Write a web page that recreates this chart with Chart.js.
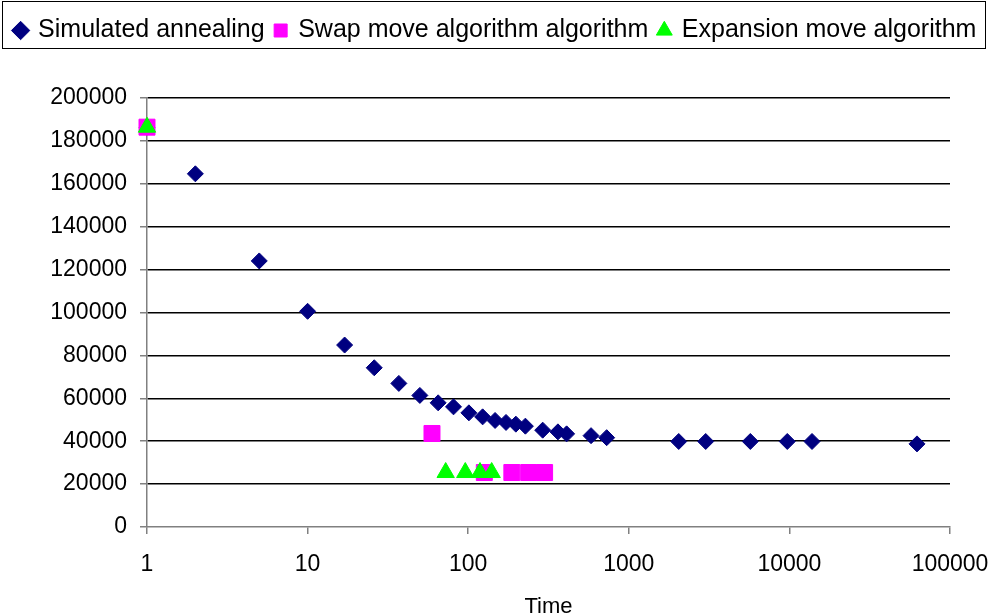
<!DOCTYPE html>
<html lang="en">
<head>
    <meta charset="UTF-8">
    <title>Cost vs Time</title>
    <script src="https://cdn.jsdelivr.net/npm/chart.js"></script>
    <style>
        body {
            margin: 0;
            background-color: #ffffff;
        }

        #chart {
            display: block;
        }
    </style>
</head>
<body>
    <canvas id="chart" width="992" height="613"></canvas>

    <script>
        // values
        const saTime = [1, 2, 5, 10, 17, 26, 37, 50, 65, 81, 101, 123, 147, 172, 198, 227, 291, 362, 410, 582, 728, 2046, 3012, 5710, 9700, 13830, 62300];
        const saCost = [186400, 164660, 124040, 100560, 84830, 74230, 66950, 61340, 57890, 56020, 53220, 51350, 49670, 48740, 47950, 47010, 45140, 44350, 43420, 42580, 41640, 39870, 39870, 39870, 39870, 39870, 38750];

        const swapTime = [1, 59.5, 126, 187, 238, 299];
        const swapCost = [186400, 43600, 25400, 25400, 25400, 25400];

        const expTime = [1, 72.4, 95.9, 118.4, 140];
        const expCost = [186400, 25400, 25400, 25400, 25400];

        const xTicks = [1, 10, 100, 1000, 10000, 100000];
        const seriesNames = ['Simulated annealing', 'Swap move algorithm algorithm', 'Expansion move algorithm'];

        const toPoints = (xs, ys) => xs.map((x, i) => ({ x: x, y: ys[i] }));

        const fontFamily = "'Liberation Sans', Arial, sans-serif";

        // taller legend area and the border round the legend row
        const legendBox = {
            id: 'legendBox',
            beforeInit(chart) {
                const fit = chart.legend.fit;
                chart.legend.fit = function () {
                    fit.bind(chart.legend)();
                    this.height = 91;
                };
            },
            afterDraw(chart) {
                const ctx = chart.ctx;
                ctx.save();
                ctx.strokeStyle = '#000';
                ctx.lineWidth = 1;
                ctx.strokeRect(2.5, 1.5, 983, 47);
                ctx.restore();
            }
        };

        const ctx = document.getElementById('chart').getContext('2d');
        const chart = new Chart(ctx, {
            type: 'scatter',
            data: {
                datasets: [{
                    label: seriesNames[0],
                    data: toPoints(saTime, saCost),
                    pointStyle: 'rectRot',
                    pointRadius: 8,
                    borderWidth: 1,
                    backgroundColor: '#000080',
                    borderColor: '#000080',
                    clip: false,
                    order: 2
                }, {
                    label: seriesNames[1],
                    data: toPoints(swapTime, swapCost),
                    pointStyle: 'rect',
                    pointRadius: 11.3,
                    borderWidth: 1,
                    backgroundColor: '#ff00ff',
                    borderColor: '#ff00ff',
                    clip: false,
                    order: 1
                }, {
                    label: seriesNames[2],
                    data: toPoints(expTime, expCost),
                    pointStyle: 'triangle',
                    pointRadius: 10,
                    borderWidth: 1,
                    backgroundColor: '#00ff00',
                    borderColor: '#00ff00',
                    clip: false,
                    order: 0
                }]
            },
            options: {
                responsive: false,
                animation: false,
                devicePixelRatio: 1,
                layout: {
                    padding: { left: 0, right: 0, top: 7, bottom: 0 }
                },
                scales: {
                    x: {
                        type: 'logarithmic',
                        min: 1,
                        max: 100000,
                        afterBuildTicks: scale => {
                            scale.ticks = xTicks.map(v => ({ value: v }));
                        },
                        afterFit: scale => {
                            scale.height = 86;
                            scale.paddingLeft = 0;
                            scale.paddingRight = 0;
                        },
                        ticks: {
                            color: '#000',
                            padding: 17,
                            maxRotation: 0,
                            autoSkip: false,
                            font: { family: fontFamily, size: 23 },
                            callback: v => String(v)
                        },
                        grid: {
                            drawOnChartArea: false,
                            drawTicks: true,
                            tickLength: 7,
                            color: '#808080',
                            lineWidth: 1.5
                        },
                        border: { color: '#808080', width: 1.5 },
                        title: {
                            display: true,
                            text: 'Time',
                            color: '#000',
                            padding: { top: 0, bottom: 0 },
                            font: { family: fontFamily, size: 22, lineHeight: '12px' }
                        }
                    },
                    y: {
                        min: 0,
                        max: 200000,
                        afterFit: scale => {
                            scale.width = 147;
                        },
                        ticks: {
                            stepSize: 20000,
                            color: '#000',
                            padding: 13,
                            font: { family: fontFamily, size: 23 },
                            callback: v => String(v)
                        },
                        grid: {
                            color: c => (c.tick && c.tick.value === 0) ? 'rgba(0,0,0,0)' : '#000',
                            tickColor: '#808080',
                            tickLength: 7,
                            lineWidth: 1.5
                        },
                        border: { color: '#808080', width: 1.5 }
                    },
                    // empty strip on the right of the plot
                    yRight: {
                        position: 'right',
                        min: 0,
                        max: 1,
                        afterFit: scale => {
                            scale.width = 42;
                        },
                        ticks: { display: false },
                        grid: { display: false },
                        border: { display: false }
                    }
                },
                plugins: {
                    legend: {
                        display: true,
                        position: 'top',
                        labels: {
                            usePointStyle: true,
                            boxWidth: 10,
                            boxHeight: 13,
                            padding: 11,
                            color: '#000',
                            font: { family: fontFamily, size: 25 },
                            sort: (a, b) => a.datasetIndex - b.datasetIndex
                        }
                    },
                    tooltip: { enabled: false }
                }
            },
            plugins: [legendBox]
        });
    </script>
</body>
</html>
